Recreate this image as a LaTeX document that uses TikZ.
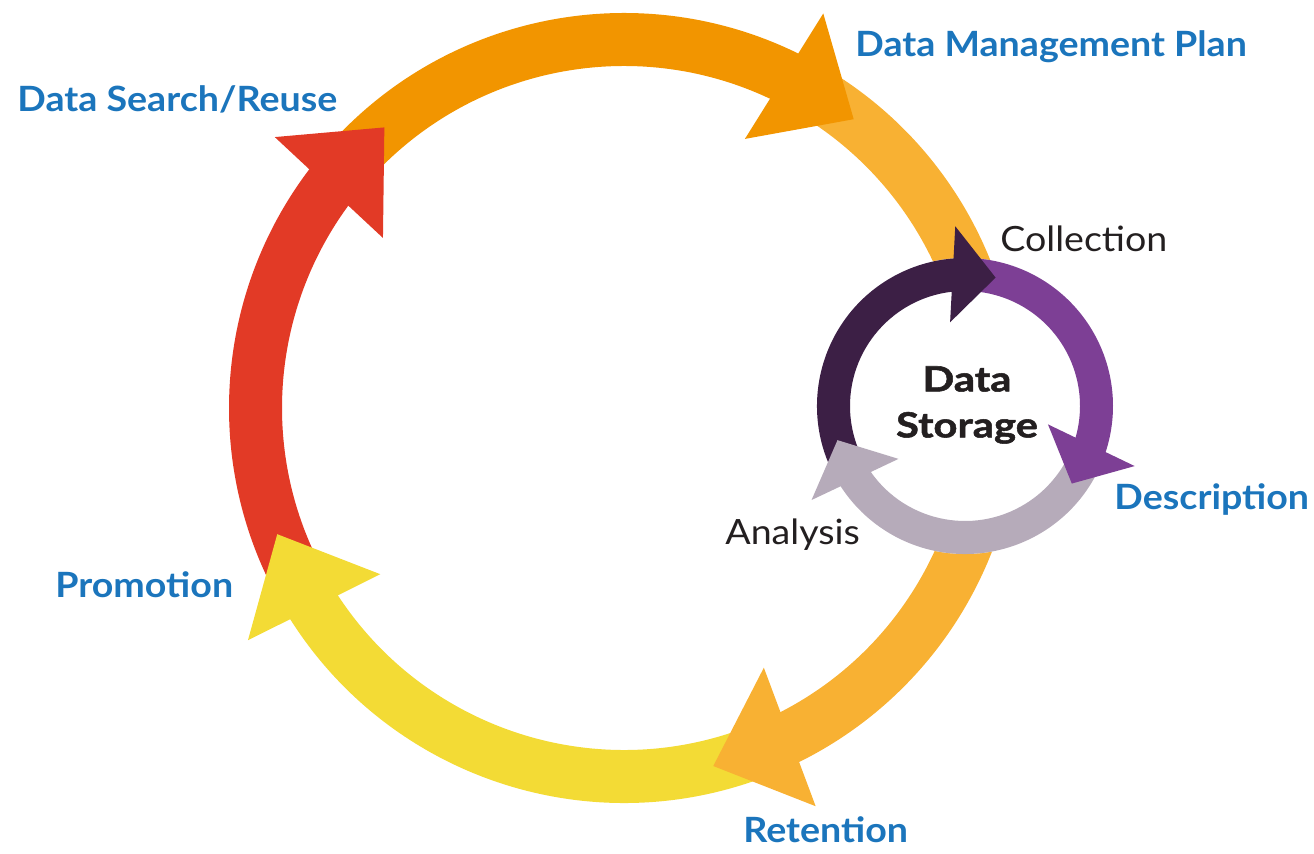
\documentclass[tikz,border=0pt]{standalone}
\usepackage{fontspec}
\setmainfont{Lato}
\newfontfamily\labelfont{Lato}[FakeStretch=1.08]
\newfontfamily\storagefont{Lato}[FakeStretch=1.2,FakeBold=1.5]
\usetikzlibrary{positioning}
\definecolor{dmporange}{RGB}{242,149,0}
\definecolor{retorange}{RGB}{248,177,51}
\definecolor{promyellow}{RGB}{243,219,53}
\definecolor{reusered}{RGB}{226,58,38}
\definecolor{collpurple}{RGB}{60,31,69}
\definecolor{descpurple}{RGB}{125,63,149}
\definecolor{anagrey}{RGB}{182,171,186}
\definecolor{labelblue}{RGB}{27,117,188}
\definecolor{labelblack}{RGB}{35,31,32}

\begin{document}
\begin{tikzpicture}[x=0.5pt,y=0.5pt,
    stagelabel/.style={anchor=base west,inner sep=0pt,text=labelblue,
      font=\labelfont\fontsize{17.4}{20}\selectfont\bfseries},
    steplabel/.style={anchor=base west,inner sep=0pt,text=labelblack,
      font=\labelfont\fontsize{17.4}{20}\selectfont}
  ]
\useasboundingbox (0,0) rectangle (1314,854);
\coordinate (big) at (624,446);
\coordinate (small) at (965,448);

% outer cycle
\begin{scope}[shift={(big)}]
  \foreach \col/\tl/\hd in {dmporange/139.5/64.5, retorange/60.5/-63,
      promyellow/-67/-147, reusered/-151/-216.5}
    \fill[\col] (\tl:395) arc[start angle=\tl, end angle=\hd-2, radius=395]
      -- (\hd-2:342) arc[start angle=\hd-2, end angle=\tl, radius=342] -- cycle;
  \foreach \col/\hd in {dmporange/64.5, retorange/-63, promyellow/-147, reusered/-216.5}
    \fill[\col] (\hd-1.3:442) -- (\hd-13:369) -- (\hd+1.3:295) -- cycle;
\end{scope}

% inner cycle
\fill[white] (small) circle[radius=148];
\begin{scope}[shift={(small)}]
  \foreach \col/\tl/\hd in {collpurple/210/96.6, descpurple/91.6/-16, anagrey/-21/-145}
    \fill[\col] (\tl:148) arc[start angle=\tl, end angle=\hd-3, radius=148]
      -- (\hd-3:115) arc[start angle=\hd-3, end angle=\tl, radius=115] -- cycle;
  \foreach \col/\hd in {collpurple/96.6, descpurple/-16, anagrey/-145}
    \fill[\col] (\hd-3.5:180) -- (\hd-20:132) -- (\hd+3.5:85) -- cycle;
\end{scope}

\node[stagelabel] (dmp) at (855,797) {Data Management Plan};
\node[stagelabel] (reuse) at (17,742) {Data Search/Reuse};
\node[stagelabel] (promotion) at (55,256) {Promotion};
\node[stagelabel] (retention) at (743,11) {Retention};
\node[stagelabel] (description) at (1114,344) {Description};
\node[steplabel] (collection) at (1000,602) {Collection};
\node[steplabel] (analysis) at (725,309) {Analysis};
\node[align=center,inner sep=0pt,text=labelblack,
  font=\storagefont\fontsize{17.4}{23}\selectfont\bfseries] (storage) at (967,449) {Data\\Storage};
\end{tikzpicture}
\end{document}
